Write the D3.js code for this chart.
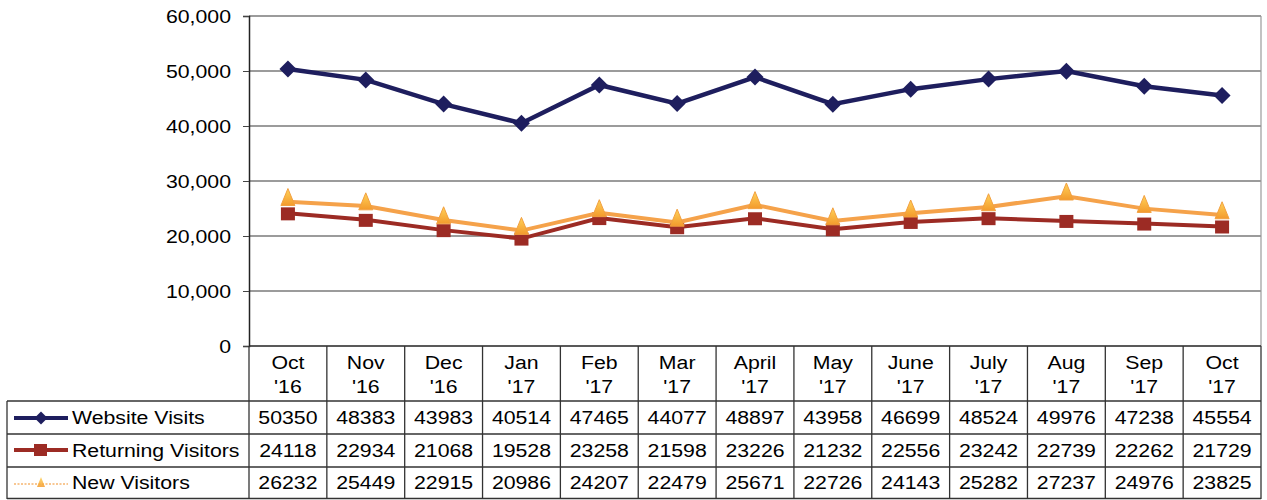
<!DOCTYPE html>
<html><head><meta charset="utf-8">
<script src="https://cdn.jsdelivr.net/npm/d3@7"></script>
<style>body{margin:0;background:#fff}svg{display:block}text{font-family:"Liberation Sans",Arial,sans-serif;fill:#000}</style>
</head><body><svg id="c" width="1267" height="500"></svg>
<script>
const monthNames = ["Oct","Nov","Dec","Jan","Feb","Mar","April","May","June","July","Aug","Sep","Oct"];
const yearNames = ["'16","'16","'16","'17","'17","'17","'17","'17","'17","'17","'17","'17","'17"];
const websiteVisits = [50350,48383,43983,40514,47465,44077,48897,43958,46699,48524,49976,47238,45554];
const returningVisitors = [24118,22934,21068,19528,23258,21598,23226,21232,22556,23242,22739,22262,21729];
const newVisitors = [26232,25449,22915,20986,24207,22479,25671,22726,24143,25282,27237,24976,23825];
const seriesNames = ["Website Visits","Returning Visitors","New Visitors"];
const yTicks = [0,10000,20000,30000,40000,50000,60000];

const svg = d3.select("#c");
const L=249, R=1261, T=16, B=346;
const rows=[401,434,467,499];
const cats = d3.range(monthNames.length);
const x = d3.scaleBand().domain(cats).range([L,R]).padding(0);
const y = d3.scaleLinear().domain([0,60000]).range([B,T]);
const SX = 1.12;
function txt(g, tx, ty, s, anchor){
  return g.append("text").attr("transform",`translate(${tx},${ty}) scale(${SX},1)`)
    .attr("text-anchor",anchor||"middle").attr("font-size",19).text(s);
}

// gridlines
svg.append("g").selectAll("line").data(yTicks.filter(d=>d>0)).join("line")
  .attr("x1",L).attr("x2",R).attr("y1",d=>y(d)).attr("y2",d=>y(d))
  .attr("stroke","#7a7a7a").attr("stroke-width",1.5);
svg.append("line").attr("x1",R).attr("x2",R).attr("y1",T).attr("y2",B).attr("stroke","#9a9a9a").attr("stroke-width",1.2);

// y axis
const ya = svg.append("g").attr("transform",`translate(${L},0)`)
  .call(d3.axisLeft(y).tickValues(yTicks).tickSize(6).tickFormat(d3.format(",")));
ya.select(".domain").attr("stroke","#222").attr("stroke-width",1.5);
ya.selectAll(".tick line").attr("stroke","#444");
ya.selectAll(".tick text").remove();
yTicks.forEach(v=>txt(svg, 231, y(v)+7, d3.format(",")(v), "end"));
svg.append("line").attr("x1",L).attr("x2",R).attr("y1",B).attr("y2",B).attr("stroke","#222").attr("stroke-width",1.5);

// table
const tb = svg.append("g");
const tline=(x1,y1,x2,y2,c,w)=>tb.append("line").attr("x1",x1).attr("y1",y1).attr("x2",x2).attr("y2",y2).attr("stroke",c||"#333").attr("stroke-width",w||1.3);
cats.forEach(i=>{ tline(x(i),B,x(i),rows[3]); });
tline(R,B,R,rows[3]);
tline(7,rows[0],R,rows[0]); tline(7,rows[1],R,rows[1]); tline(7,rows[2],R,rows[2]); tline(7,rows[3]-0.5,R,rows[3]-0.5);
tline(7,rows[0],7,rows[3]);
cats.forEach(i=>{
  const cx=x(i)+x.bandwidth()/2;
  txt(tb,cx,369,monthNames[i]);
  txt(tb,cx,393,yearNames[i]);
});
const allSeries=[websiteVisits,returningVisitors,newVisitors];
const baselines=[424,457,489];
allSeries.forEach((s,r)=>{
  s.forEach((v,i)=>txt(tb,x(i)+x.bandwidth()/2,baselines[r],String(v)));
  txt(tb,72,baselines[r],seriesNames[r],"start");
});

const navy="#1e1e5e", red="#9c2b24", orange="#f5a24a";
const line=d3.line().x((d,i)=>x(i)+x.bandwidth()/2).y(d=>y(d));
const defs=svg.append("defs");
const grad=defs.append("linearGradient").attr("id","tri").attr("x1",0).attr("x2",0).attr("y1",0).attr("y2",1);
grad.append("stop").attr("offset","0%").attr("stop-color","#ffd35a");
grad.append("stop").attr("offset","100%").attr("stop-color","#f39a2c");
const triPath=(w,h)=>`M0,${-h*0.6}L${w/2},${h*0.4}L${-w/2},${h*0.4}Z`;
const diaPath=r=>`M0,${-r}L${r},0L0,${r}L${-r},0Z`;

// returning
svg.append("path").datum(returningVisitors).attr("d",line).attr("fill","none").attr("stroke",red).attr("stroke-width",4);
svg.append("g").selectAll("rect").data(returningVisitors).join("rect")
  .attr("x",(d,i)=>x(i)+x.bandwidth()/2-7).attr("y",d=>y(d)-6).attr("width",14).attr("height",13).attr("fill",red);
// new
svg.append("path").datum(newVisitors).attr("d",line).attr("fill","none").attr("stroke",orange).attr("stroke-width",4);
svg.append("g").selectAll("path").data(newVisitors).join("path")
  .attr("transform",(d,i)=>`translate(${x(i)+x.bandwidth()/2},${y(d)-3})`).attr("d",triPath(14,17))
  .attr("fill","url(#tri)").attr("stroke","#f2a040").attr("stroke-width",1);
// website
svg.append("path").datum(websiteVisits).attr("d",line).attr("fill","none").attr("stroke",navy).attr("stroke-width",4.5);
svg.append("g").selectAll("path").data(websiteVisits).join("path")
  .attr("transform",(d,i)=>`translate(${x(i)+x.bandwidth()/2},${y(d)})`).attr("d",diaPath(8.5)).attr("fill",navy);

// legend keys in table
const lg=svg.append("g");
lg.append("line").attr("x1",14).attr("x2",68).attr("y1",418).attr("y2",418).attr("stroke",navy).attr("stroke-width",4);
lg.append("path").attr("transform","translate(41,418)").attr("d",diaPath(6.5)).attr("fill",navy);
lg.append("line").attr("x1",14).attr("x2",68).attr("y1",450).attr("y2",450).attr("stroke",red).attr("stroke-width",4);
lg.append("rect").attr("x",34).attr("y",444).attr("width",13).attr("height",12).attr("fill",red);
lg.append("line").attr("x1",14).attr("x2",68).attr("y1",484).attr("y2",484).attr("stroke",orange).attr("stroke-width",2).attr("stroke-dasharray","2,1.5").attr("opacity",0.6);
lg.append("path").attr("transform","translate(41,483)").attr("d",triPath(8,10)).attr("fill","url(#tri)").attr("opacity",0.85);
</script></body></html>
